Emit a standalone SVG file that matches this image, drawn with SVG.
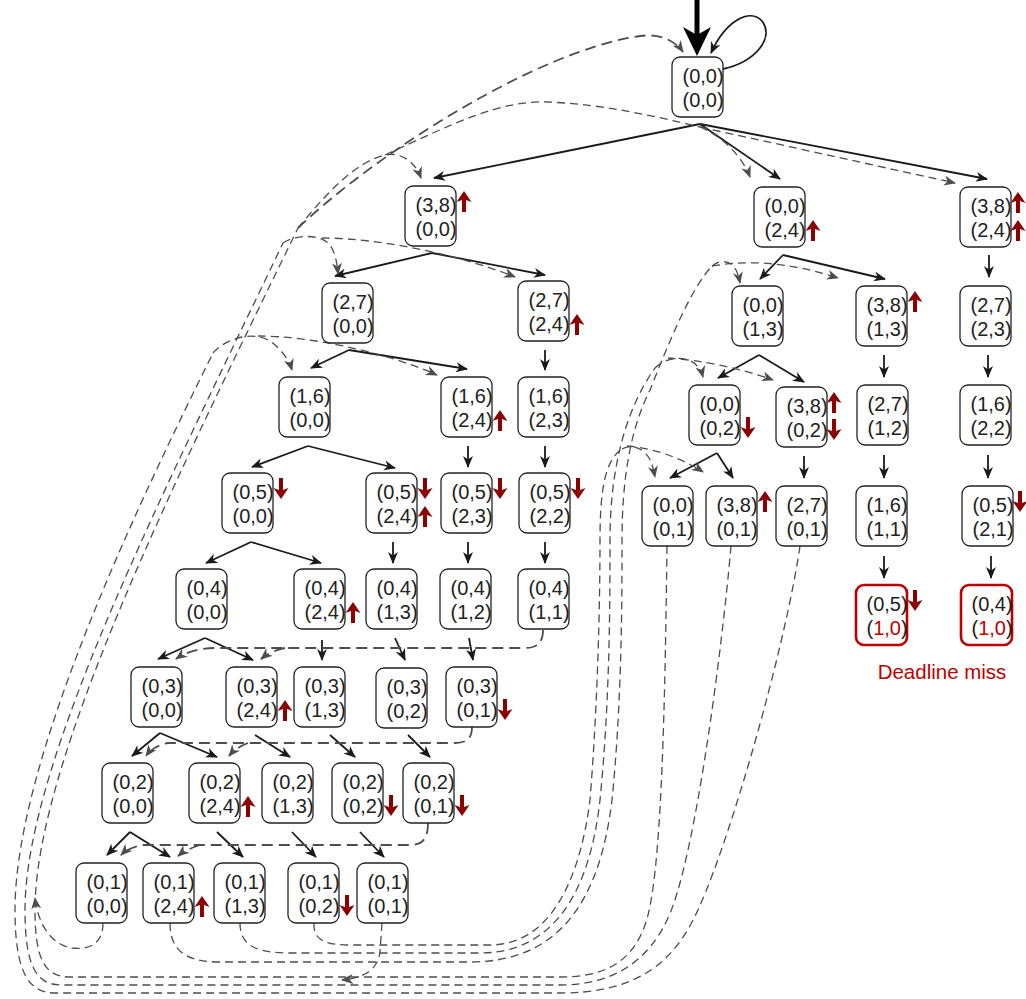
<svg xmlns="http://www.w3.org/2000/svg" width="1026" height="999" viewBox="0 0 1026 999">
<style>
.node rect{fill:#fff;stroke:#222;stroke-width:1.3}
.miss rect{stroke:#c00000;stroke-width:2.6}
text{font-family:"Liberation Sans",Arial,sans-serif;font-size:20px;fill:#222}
.red{fill:#c00000}
.s{fill:none;stroke:#1a1a1a;stroke-width:1.8;marker-end:url(#ah)}
.d{fill:none;stroke:#4d4d4d;stroke-width:1.3;stroke-dasharray:8 5}
.da{fill:none;stroke:#4d4d4d;stroke-width:1.3;stroke-dasharray:8 5;marker-end:url(#ag)}
.dh{fill:none;stroke:#4d4d4d;stroke-width:1.8;stroke-dasharray:11 6}
.dha{fill:none;stroke:#4d4d4d;stroke-width:1.8;stroke-dasharray:11 6;marker-end:url(#ag)}
.ra{fill:#8b0000}
</style>
<defs>
<marker id="ah" viewBox="0 0 12 10" refX="11" refY="5" markerWidth="12" markerHeight="10" markerUnits="userSpaceOnUse" orient="auto"><path d="M0,0 L12,5 L0,10 L3.5,5 Z" fill="#1a1a1a"/></marker>
<marker id="ag" viewBox="0 0 12 10" refX="11" refY="5" markerWidth="12" markerHeight="10" markerUnits="userSpaceOnUse" orient="auto"><path d="M0,0 L12,5 L0,10 L3.5,5 Z" fill="#4d4d4d"/></marker>
<path id="up" class="ra" d="M0,0 L7.5,11 L2,9 L2,21 L-2,21 L-2,9 L-7.5,11 Z"/>
<path id="dn" class="ra" d="M0,21 L7.5,10 L2,12 L2,0 L-2,0 L-2,12 L-7.5,10 Z"/>
</defs>

<g id="connectors">
<line x1="697" y1="0" x2="697" y2="36" stroke="#000" stroke-width="5"/>
<path d="M683,27 L697,56 L711,27 L697,35 Z" fill="#000"/>
<path class="s" d="M723,69 C755,62 775,38 762,21 C750,8 726,20 711,53"/>
<path class="s" d="M700,124 L434,178"/>
<path class="s" d="M700,124 L780,179"/>
<path class="s" d="M700,124 L987,179"/>
<path class="s" d="M432,253 L335,276"/>
<path class="s" d="M432,253 L545,275"/>
<path class="s" d="M349,350 L311,368"/>
<path class="s" d="M349,350 L467,369"/>
<path class="s" d="M545,350 L545,370"/>
<path class="s" d="M308,446 L252,467"/>
<path class="s" d="M308,446 L395,468"/>
<path class="s" d="M468,446 L468,467"/>
<path class="s" d="M545,446 L545,467"/>
<path class="s" d="M251,542 L206,563"/>
<path class="s" d="M251,542 L321,563"/>
<path class="s" d="M393,542 L393,563"/>
<path class="s" d="M468,542 L468,563"/>
<path class="s" d="M545,542 L545,563"/>
<path class="s" d="M205,638 L158,659"/>
<path class="s" d="M205,638 L253,660"/>
<path class="s" d="M322,640 L322,660"/>
<path class="s" d="M395,638 L405,660"/>
<path class="s" d="M469,638 L473,660"/>
<path class="s" d="M160,733 L132,756"/>
<path class="s" d="M160,733 L217,757"/>
<path class="s" d="M255,735 L290,757"/>
<path class="s" d="M330,735 L355,757"/>
<path class="s" d="M408,735 L430,757"/>
<path class="s" d="M130,832 L107,855"/>
<path class="s" d="M130,832 L170,857"/>
<path class="s" d="M217,832 L243,857"/>
<path class="s" d="M292,832 L316,857"/>
<path class="s" d="M360,832 L384,857"/>
<path class="s" d="M783,255 L760,279"/>
<path class="s" d="M783,255 L885,279"/>
<path class="s" d="M989,255 L989,277"/>
<path class="s" d="M759,355 L718,378"/>
<path class="s" d="M759,355 L804,382"/>
<path class="s" d="M884,355 L884,377"/>
<path class="s" d="M988,355 L988,377"/>
<path class="s" d="M717,453 L670,478"/>
<path class="s" d="M717,453 L733,478"/>
<path class="s" d="M804,456 L804,478"/>
<path class="s" d="M884,455 L884,478"/>
<path class="s" d="M988,455 L988,478"/>
<path class="s" d="M884,556 L884,578"/>
<path class="s" d="M991,556 L991,578"/>

<path class="dh" d="M543,630 C543,642 538,648 525,648 L215,648 C200,648 186,652 176,659" marker-end="url(#ag)"/>
<path class="dha" d="M285,648 C275,650 267,654 261,659"/>
<path class="dh" d="M472,727 C472,737 468,743 455,743 L168,743 C158,745 151,749 146,756" marker-end="url(#ag)"/>
<path class="dha" d="M248,743 C240,746 234,750 229,756"/>
<path class="dh" d="M428,823 C428,837 424,845 410,845 L143,845 C133,847 126,850 121,855" marker-end="url(#ag)"/>
<path class="dha" d="M200,845 C191,848 184,851 178,856"/>

<path class="da" d="M103,923 C103,945 88,950 72,948 C52,945 38,925 35,898"/>
<path class="da" d="M382,923 L380,952 C378,968 366,978 342,980"/>

<path class="d" d="M170,923 C170,950 185,962 220,962 L470,962 C560,962 600,900 612,800 C622,700 622,600 622,540 C622,480 630,430 650,390 C670,340 690,290 712,266"/>
<path class="da" d="M712,266 C722,258 732,262 736,270 C738,274 739,278 740,283"/>
<path class="da" d="M712,266 C760,258 800,266 838,278"/>
<path class="d" d="M240,923 C240,945 255,953 290,953 L480,953 C555,953 590,890 600,800 C610,700 610,600 610,540 C610,470 625,410 655,368"/>
<path class="da" d="M655,368 C668,355 690,356 697,366 C700,370 702,373 703,377"/>
<path class="da" d="M668,358 C700,360 740,368 773,380"/>
<path class="d" d="M314,923 C313,940 325,945 350,945 L490,945 C550,945 580,880 590,800 C598,700 600,600 600,540 C600,490 605,460 622,449"/>
<path class="da" d="M622,449 C635,442 648,452 652,464 C653,468 654,472 655,477"/>
<path class="da" d="M627,446 C655,448 685,460 703,472"/>

<path class="d" d="M667,546 C665,700 662,880 645,925 C632,962 605,977 560,977 L70,977 C45,977 35,960 35,910 C35,760 180,470 298,228"/>
<path class="dha" d="M298,228 C380,150 540,50 640,36 C662,33 676,42 683,52"/>
<path class="da" d="M298,228 C325,195 355,162 385,155 C402,152 415,162 421,178"/>
<path class="d" d="M385,155 C450,125 500,100 547,102 C600,104 650,115 700,127"/>
<path class="da" d="M700,127 L955,183"/>
<path class="da" d="M700,127 C722,136 742,156 750,177"/>
<path class="d" d="M731,546 C722,650 695,860 668,918 C648,962 612,985 560,985 L62,985 C38,985 25,970 25,910 C25,760 170,480 283,243"/>
<path class="da" d="M283,243 C295,235 320,233 330,245 C335,252 337,262 338,274"/>
<path class="da" d="M322,238 C380,238 460,255 515,277"/>
<path class="d" d="M800,546 C785,650 725,860 692,922 C668,968 630,993 560,993 L55,993 C30,993 15,975 15,910 C15,760 140,500 213,353"/>
<path class="da" d="M213,353 C228,336 258,330 274,344 C283,352 289,360 292,370"/>
<path class="da" d="M258,336 C310,336 385,352 437,375"/>
</g>

<g id="n-root" class="node" transform="translate(672,57)"><rect width="51" height="60" rx="8"/><text x="10.5" y="26">(0,0)</text><text x="10.5" y="50">(0,0)</text></g>
<g id="n-A" class="node" transform="translate(405,186)"><rect width="51" height="60" rx="8"/><text x="10.5" y="26">(3,8)</text><text x="10.5" y="50">(0,0)</text><use href="#up" x="59" y="5"/></g>
<g id="n-B" class="node" transform="translate(754,187)"><rect width="51" height="60" rx="8"/><text x="10.5" y="26">(0,0)</text><text x="10.5" y="50">(2,4)</text><use href="#up" x="59" y="33"/></g>
<g id="n-C" class="node" transform="translate(960,187)"><rect width="51" height="60" rx="8"/><text x="10.5" y="26">(3,8)</text><text x="10.5" y="50">(2,4)</text><use href="#up" x="58" y="5"/><use href="#up" x="58" y="33"/></g>

<g id="n-A1" class="node" transform="translate(322,283)"><rect width="51" height="60" rx="8"/><text x="10.5" y="26">(2,7)</text><text x="10.5" y="50">(0,0)</text></g>
<g id="n-A2" class="node" transform="translate(518,281)"><rect width="51" height="60" rx="8"/><text x="10.5" y="26">(2,7)</text><text x="10.5" y="50">(2,4)</text><use href="#up" x="59" y="33"/></g>
<g id="n-B1" class="node" transform="translate(732,286)"><rect width="51" height="60" rx="8"/><text x="10.5" y="26">(0,0)</text><text x="10.5" y="50">(1,3)</text></g>
<g id="n-B2" class="node" transform="translate(856,286)"><rect width="51" height="60" rx="8"/><text x="10.5" y="26">(3,8)</text><text x="10.5" y="50">(1,3)</text><use href="#up" x="59" y="5"/></g>
<g id="n-C1" class="node" transform="translate(960,286)"><rect width="51" height="60" rx="8"/><text x="10.5" y="26">(2,7)</text><text x="10.5" y="50">(2,3)</text></g>

<g id="n-R3a" class="node" transform="translate(279,377)"><rect width="51" height="60" rx="8"/><text x="10.5" y="26">(1,6)</text><text x="10.5" y="50">(0,0)</text></g>
<g id="n-R3b" class="node" transform="translate(441,377)"><rect width="51" height="60" rx="8"/><text x="10.5" y="26">(1,6)</text><text x="10.5" y="50">(2,4)</text><use href="#up" x="59" y="33"/></g>
<g id="n-R3c" class="node" transform="translate(518,377)"><rect width="51" height="60" rx="8"/><text x="10.5" y="26">(1,6)</text><text x="10.5" y="50">(2,3)</text></g>
<g id="n-B1a" class="node" transform="translate(689,385)"><rect width="51" height="60" rx="8"/><text x="10.5" y="26">(0,0)</text><text x="10.5" y="50">(0,2)</text><use href="#dn" x="59" y="32"/></g>
<g id="n-B1b" class="node" transform="translate(776,387)"><rect width="51" height="60" rx="8"/><text x="10.5" y="26">(3,8)</text><text x="10.5" y="50">(0,2)</text><use href="#up" x="58" y="5"/><use href="#dn" x="58" y="32"/></g>
<g id="n-B2a" class="node" transform="translate(857,385)"><rect width="51" height="60" rx="8"/><text x="10.5" y="26">(2,7)</text><text x="10.5" y="50">(1,2)</text></g>
<g id="n-C2" class="node" transform="translate(960,385)"><rect width="51" height="60" rx="8"/><text x="10.5" y="26">(1,6)</text><text x="10.5" y="50">(2,2)</text></g>

<g id="n-R4a" class="node" transform="translate(222,473)"><rect width="51" height="60" rx="8"/><text x="10.5" y="26">(0,5)</text><text x="10.5" y="50">(0,0)</text><use href="#dn" x="59" y="5"/></g>
<g id="n-R4b" class="node" transform="translate(366,473)"><rect width="51" height="60" rx="8"/><text x="10.5" y="26">(0,5)</text><text x="10.5" y="50">(2,4)</text><use href="#dn" x="59" y="5"/><use href="#up" x="59" y="33"/></g>
<g id="n-R4c" class="node" transform="translate(441,473)"><rect width="51" height="60" rx="8"/><text x="10.5" y="26">(0,5)</text><text x="10.5" y="50">(2,3)</text><use href="#dn" x="59" y="5"/></g>
<g id="n-R4d" class="node" transform="translate(519,473)"><rect width="51" height="60" rx="8"/><text x="10.5" y="26">(0,5)</text><text x="10.5" y="50">(2,2)</text><use href="#dn" x="59" y="5"/></g>
<g id="n-R4e" class="node" transform="translate(642,486)"><rect width="51" height="60" rx="8"/><text x="10.5" y="26">(0,0)</text><text x="10.5" y="50">(0,1)</text></g>
<g id="n-R4f" class="node" transform="translate(706,486)"><rect width="51" height="60" rx="8"/><text x="10.5" y="26">(3,8)</text><text x="10.5" y="50">(0,1)</text><use href="#up" x="59" y="5"/></g>
<g id="n-R4g" class="node" transform="translate(776,486)"><rect width="51" height="60" rx="8"/><text x="10.5" y="26">(2,7)</text><text x="10.5" y="50">(0,1)</text></g>
<g id="n-R4h" class="node" transform="translate(856,486)"><rect width="51" height="60" rx="8"/><text x="10.5" y="26">(1,6)</text><text x="10.5" y="50">(1,1)</text></g>
<g id="n-R4i" class="node" transform="translate(962,486)"><rect width="51" height="60" rx="8"/><text x="10.5" y="26">(0,5)</text><text x="10.5" y="50">(2,1)</text><use href="#dn" x="58" y="5"/></g>

<g id="n-R5a" class="node" transform="translate(176,569)"><rect width="51" height="60" rx="8"/><text x="10.5" y="26">(0,4)</text><text x="10.5" y="50">(0,0)</text></g>
<g id="n-R5b" class="node" transform="translate(294,569)"><rect width="51" height="60" rx="8"/><text x="10.5" y="26">(0,4)</text><text x="10.5" y="50">(2,4)</text><use href="#up" x="59" y="33"/></g>
<g id="n-R5c" class="node" transform="translate(366,569)"><rect width="51" height="60" rx="8"/><text x="10.5" y="26">(0,4)</text><text x="10.5" y="50">(1,3)</text></g>
<g id="n-R5d" class="node" transform="translate(440,569)"><rect width="51" height="60" rx="8"/><text x="10.5" y="26">(0,4)</text><text x="10.5" y="50">(1,2)</text></g>
<g id="n-R5e" class="node" transform="translate(518,569)"><rect width="51" height="60" rx="8"/><text x="10.5" y="26">(0,4)</text><text x="10.5" y="50">(1,1)</text></g>
<g id="n-M1" class="node miss" transform="translate(856,585)"><rect width="51" height="60" rx="8"/><text x="10.5" y="26">(0,5)</text><text x="10.5" y="50">(<tspan class="red">1,0</tspan>)</text><use href="#dn" x="59" y="5"/></g>
<g id="n-M2" class="node miss" transform="translate(961,585)"><rect width="51" height="60" rx="8"/><text x="10.5" y="26">(0,4)</text><text x="10.5" y="50">(<tspan class="red">1,0</tspan>)</text></g>
<text id="deadline-miss" x="942" y="679" text-anchor="middle" class="red" style="font-size:20.5px">Deadline miss</text>

<g id="n-R6a" class="node" transform="translate(131,667)"><rect width="51" height="60" rx="8"/><text x="10.5" y="26">(0,3)</text><text x="10.5" y="50">(0,0)</text></g>
<g id="n-R6b" class="node" transform="translate(226,667)"><rect width="51" height="60" rx="8"/><text x="10.5" y="26">(0,3)</text><text x="10.5" y="50">(2,4)</text><use href="#up" x="59" y="33"/></g>
<g id="n-R6c" class="node" transform="translate(294,667)"><rect width="51" height="60" rx="8"/><text x="10.5" y="26">(0,3)</text><text x="10.5" y="50">(1,3)</text></g>
<g id="n-R6d" class="node" transform="translate(376,668)"><rect width="51" height="60" rx="8"/><text x="10.5" y="26">(0,3)</text><text x="10.5" y="50">(0,2)</text></g>
<g id="n-R6e" class="node" transform="translate(446,667)"><rect width="51" height="60" rx="8"/><text x="10.5" y="26">(0,3)</text><text x="10.5" y="50">(0,1)</text><use href="#dn" x="59" y="32"/></g>

<g id="n-R7a" class="node" transform="translate(102,763)"><rect width="51" height="60" rx="8"/><text x="10.5" y="26">(0,2)</text><text x="10.5" y="50">(0,0)</text></g>
<g id="n-R7b" class="node" transform="translate(189,763)"><rect width="51" height="60" rx="8"/><text x="10.5" y="26">(0,2)</text><text x="10.5" y="50">(2,4)</text><use href="#up" x="59" y="33"/></g>
<g id="n-R7c" class="node" transform="translate(262,763)"><rect width="51" height="60" rx="8"/><text x="10.5" y="26">(0,2)</text><text x="10.5" y="50">(1,3)</text></g>
<g id="n-R7d" class="node" transform="translate(332,763)"><rect width="51" height="60" rx="8"/><text x="10.5" y="26">(0,2)</text><text x="10.5" y="50">(0,2)</text><use href="#dn" x="59" y="32"/></g>
<g id="n-R7e" class="node" transform="translate(403,763)"><rect width="51" height="60" rx="8"/><text x="10.5" y="26">(0,2)</text><text x="10.5" y="50">(0,1)</text><use href="#dn" x="59" y="32"/></g>

<g id="n-R8a" class="node" transform="translate(76,863)"><rect width="51" height="60" rx="8"/><text x="10.5" y="26">(0,1)</text><text x="10.5" y="50">(0,0)</text></g>
<g id="n-R8b" class="node" transform="translate(143,863)"><rect width="51" height="60" rx="8"/><text x="10.5" y="26">(0,1)</text><text x="10.5" y="50">(2,4)</text><use href="#up" x="59" y="33"/></g>
<g id="n-R8c" class="node" transform="translate(214,863)"><rect width="51" height="60" rx="8"/><text x="10.5" y="26">(0,1)</text><text x="10.5" y="50">(1,3)</text></g>
<g id="n-R8d" class="node" transform="translate(288,863)"><rect width="51" height="60" rx="8"/><text x="10.5" y="26">(0,1)</text><text x="10.5" y="50">(0,2)</text><use href="#dn" x="59" y="32"/></g>
<g id="n-R8e" class="node" transform="translate(357,863)"><rect width="51" height="60" rx="8"/><text x="10.5" y="26">(0,1)</text><text x="10.5" y="50">(0,1)</text></g>
</svg>
